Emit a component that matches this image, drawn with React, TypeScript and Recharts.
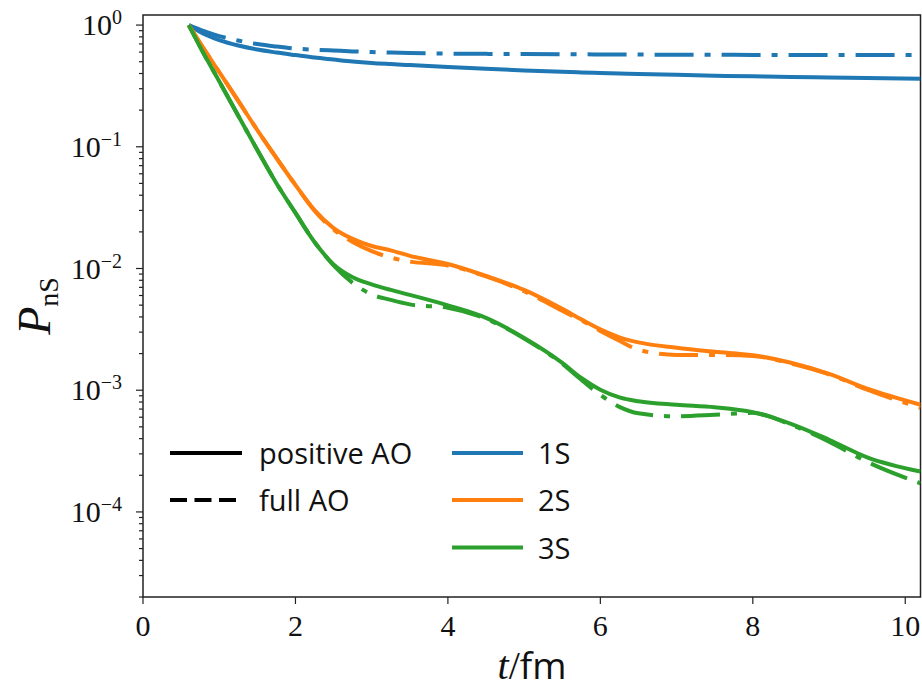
import { LineChart, Line, XAxis, YAxis, ReferenceArea, Customized } from "recharts";

// time in fm
const times = [0.6, 0.8, 1.0, 1.25, 1.5, 1.75, 2.0, 2.25, 2.5, 2.75, 3.0, 3.25, 3.5, 4.0, 4.5, 5.0, 5.5, 5.75, 6.0, 6.25, 6.5, 7.0, 7.5, 8.0, 8.5, 9.0, 9.5, 10.2];

// survival probabilities, positive AO (solid) and full AO (dash-dot)
const p1sPositive = [1, 0.844, 0.753, 0.679, 0.629, 0.595, 0.567, 0.541, 0.521, 0.502, 0.488, 0.478, 0.469, 0.452, 0.437, 0.424, 0.413, 0.408, 0.404, 0.4, 0.396, 0.39, 0.384, 0.379, 0.375, 0.371, 0.367, 0.362];
const p1sFull = [1, 0.893, 0.812, 0.746, 0.698, 0.666, 0.641, 0.628, 0.618, 0.608, 0.6, 0.594, 0.589, 0.583, 0.58, 0.578, 0.576, 0.575, 0.574, 0.573, 0.572, 0.571, 0.57, 0.569, 0.568, 0.568, 0.567, 0.567];
const p2sPositive = [1, 0.635, 0.411, 0.238, 0.137, 0.081, 0.0485, 0.0302, 0.0215, 0.0175, 0.0153, 0.0141, 0.0127, 0.0109, 0.00869, 0.00667, 0.00466, 0.00382, 0.00316, 0.00272, 0.00247, 0.00223, 0.00207, 0.00194, 0.00168, 0.00136, 0.00103, 0.00076];
const p2sFull = [1, 0.635, 0.411, 0.238, 0.137, 0.081, 0.0485, 0.0298, 0.0209, 0.0165, 0.0139, 0.0123, 0.0114, 0.0106, 0.0086, 0.0065, 0.00449, 0.00375, 0.00307, 0.00255, 0.00215, 0.00195, 0.00195, 0.00191, 0.00166, 0.00135, 0.00101, 0.000717];
const p3sPositive = [1, 0.578, 0.345, 0.18, 0.0941, 0.0502, 0.0286, 0.0165, 0.0108, 0.00847, 0.0074, 0.00667, 0.00607, 0.00498, 0.00393, 0.00269, 0.00168, 0.00126, 0.00101, 0.000874, 0.000811, 0.000759, 0.000724, 0.000659, 0.00053, 0.000392, 0.000281, 0.000215];
const p3sFull = [1, 0.578, 0.345, 0.18, 0.0941, 0.0502, 0.0286, 0.0165, 0.0106, 0.00762, 0.00612, 0.00552, 0.00507, 0.00475, 0.00386, 0.00266, 0.00165, 0.00122, 0.000916, 0.00073, 0.000646, 0.00061, 0.000628, 0.000652, 0.00052, 0.000378, 0.000258, 0.000172];

const xTicks = [0, 2, 4, 6, 8, 10];
const xDomain = [0, 10.2];
const yDomain = [2e-5, 1.21];
const decades = [-5, -4, -3, -2, -1, 0];
const mantissas = [1, 2, 3, 4, 5, 6, 7, 8, 9];

const data = times.map((t, i) => ({
  t,
  s1pos: p1sPositive[i],
  s1full: p1sFull[i],
  s2pos: p2sPositive[i],
  s2full: p2sFull[i],
  s3pos: p3sPositive[i],
  s3full: p3sFull[i],
}));

const yTicks: number[] = [];
decades.forEach((e) => {
  mantissas.forEach((m) => {
    const v = m * Math.pow(10, e);
    if (v >= yDomain[0] * 0.999 && v <= yDomain[1]) yTicks.push(v);
  });
});

const BLUE = "#1f77b4";
const ORANGE = "#ff7f0e";
const GREEN = "#2ca02c";
const DASHDOT = "39 11 6 11";
const serif = "'Liberation Serif', 'DejaVu Serif', serif";
const sans = "'Open Sans', 'DejaVu Sans', sans-serif";

function YTick(props: any) {
  const { x, y, payload } = props;
  const lg = Math.log10(payload.value);
  const e = Math.round(lg);
  const major = Math.abs(lg - e) < 1e-6;
  const edge = x + 7;
  return (
    <g>
      <line x1={edge - (major ? 7 : 4)} x2={edge} y1={y} y2={y} stroke="#222" strokeWidth={1.2} />
      {major && (
        <text x={edge - 21} y={y + 10} textAnchor="end" fontFamily={serif} fontSize={30} fill="#111">
          10
          <tspan dy={-11} fontSize={20}>{e < 0 ? "\u2212" + Math.abs(e) : String(e)}</tspan>
        </text>
      )}
    </g>
  );
}

function XTick(props: any) {
  const { x, y, payload } = props;
  return (
    <text x={x} y={y + 32} textAnchor="middle" fontFamily={serif} fontSize={30} fill="#111">
      {payload.value}
    </text>
  );
}

function Overlay() {
  const legendRows = [
    { y: 453, color: "#000", dash: undefined as string | undefined, label: "positive AO" },
    { y: 500, color: "#000", dash: "17 7.5", label: "full AO" },
  ];
  const stateRows = [
    { y: 453, color: BLUE, label: "1S" },
    { y: 500, color: ORANGE, label: "2S" },
    { y: 547.5, color: GREEN, label: "3S" },
  ];
  return (
    <g>
      <text x={50} y={306} transform="rotate(-90 50 306)" textAnchor="middle" fill="#111">
        <tspan fontFamily={serif} fontStyle="italic" fontSize={46}>P</tspan>
        <tspan fontFamily={serif} fontSize={28} dy={8}>nS</tspan>
      </text>
      <text x={532} y={679} textAnchor="middle" fill="#111">
        <tspan fontFamily={serif} fontStyle="italic" fontSize={40}>t</tspan>
        <tspan fontFamily={serif} fontSize={40}>/</tspan>
        <tspan fontFamily={sans} fontSize={37}>fm</tspan>
      </text>
      {legendRows.map((r) => (
        <g key={r.label}>
          <line x1={170} x2={242} y1={r.y} y2={r.y} stroke={r.color} strokeWidth={4} strokeDasharray={r.dash} />
          <text x={259} y={r.y + 11} fontFamily={sans} fontSize={29} fill="#111">{r.label}</text>
        </g>
      ))}
      {stateRows.map((r) => (
        <g key={r.label}>
          <line x1={452} x2={523} y1={r.y} y2={r.y} stroke={r.color} strokeWidth={4} />
          <text x={538} y={r.y + 11} fontFamily={sans} fontSize={29} fill="#111">{r.label}</text>
        </g>
      ))}
    </g>
  );
}

export default function App() {
  return (
    <div style={{ position: "fixed", left: 0, top: 0, width: 922, height: 691, background: "#fff" }}>
      <style>{`html, body { overflow: hidden; }`}</style>
      <LineChart width={922} height={691} data={data} margin={{ top: 15, right: 1.5, bottom: 0, left: 8 }}>
        <XAxis
          dataKey="t"
          type="number"
          domain={xDomain}
          ticks={xTicks}
          allowDataOverflow
          axisLine={false}
          tickSize={7}
          tickMargin={0}
          tickLine={{ stroke: "#222", strokeWidth: 1.2 }}
          tick={<XTick />}
          height={94}
          interval={0}
        />
        <YAxis
          type="number"
          scale="log"
          domain={yDomain}
          ticks={yTicks}
          allowDataOverflow
          axisLine={false}
          tickLine={false}
          tickSize={7}
          tickMargin={0}
          tick={<YTick />}
          width={135}
          interval={0}
        />
        <ReferenceArea x1={xDomain[0]} x2={xDomain[1]} y1={yDomain[0]} y2={yDomain[1]} fill="none" stroke="#222" strokeWidth={1.5} ifOverflow="visible" />
        <Line type="monotone" dataKey="s1pos" stroke={BLUE} strokeWidth={4} dot={false} isAnimationActive={false} />
        <Line type="monotone" dataKey="s2pos" stroke={ORANGE} strokeWidth={4} dot={false} isAnimationActive={false} />
        <Line type="monotone" dataKey="s3pos" stroke={GREEN} strokeWidth={4} dot={false} isAnimationActive={false} />
        <Line type="monotone" dataKey="s1full" stroke={BLUE} strokeWidth={4} strokeDasharray={DASHDOT} dot={false} isAnimationActive={false} />
        <Line type="monotone" dataKey="s2full" stroke={ORANGE} strokeWidth={4} strokeDasharray={DASHDOT} dot={false} isAnimationActive={false} />
        <Line type="monotone" dataKey="s3full" stroke={GREEN} strokeWidth={4} strokeDasharray={DASHDOT} dot={false} isAnimationActive={false} />
        <Customized component={<Overlay />} />
      </LineChart>
    </div>
  );
}
